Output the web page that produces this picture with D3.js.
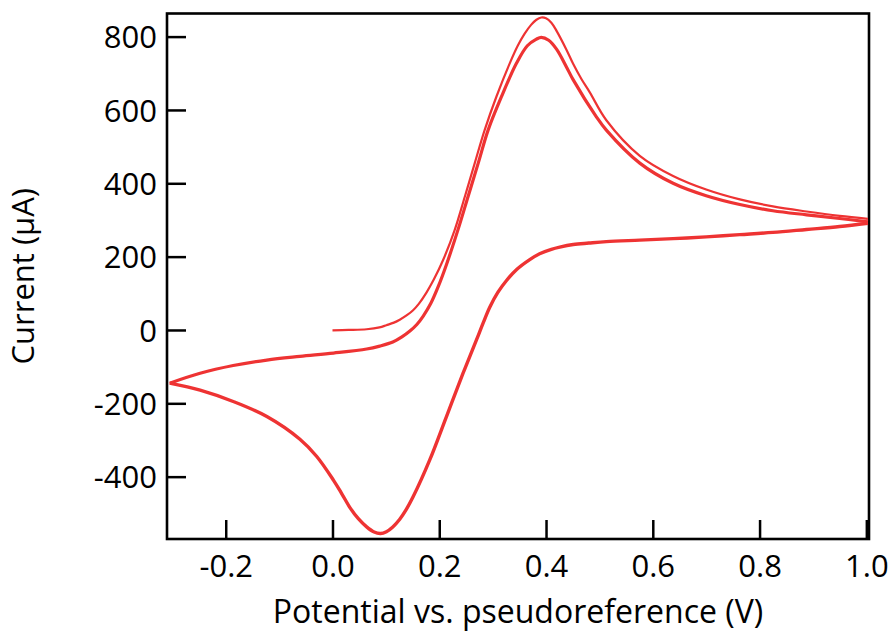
<!DOCTYPE html>
<html>
<head>
<meta charset="utf-8">
<script src="https://cdn.jsdelivr.net/npm/d3@7"></script>
<style>
  html, body { margin: 0; padding: 0; background: #fff; }
  svg { display: block; }
  text { font-family: "Open Sans", "Noto Sans", sans-serif; fill: #000; }
</style>
</head>
<body>
<svg id="chart" width="891" height="634"></svg>
<script>
// ---------------- data (potential in V, current in µA) ----------------
const xTicks = [-0.2, 0.0, 0.2, 0.4, 0.6, 0.8, 1.0];
const yTicks = [-400, -200, 0, 200, 400, 600, 800];
const xLabel = "Potential vs. pseudoreference (V)";
const yLabel = "Current (µA)";

// first anodic sweep (starting at 0 V)
const forward1V = [0.000, 0.030, 0.064, 0.088, 0.101, 0.115, 0.126, 0.140, 0.151, 0.162, 0.176, 0.190, 0.207, 0.229, 0.248, 0.2665, 0.285, 0.307, 0.332, 0.347, 0.360, 0.372, 0.382, 0.391, 0.400, 0.410, 0.420, 0.438, 0.451, 0.466, 0.482, 0.513, 0.5756, 0.638, 0.700, 0.763, 0.825, 0.888, 0.950, 1.003];
const forward1I = [-1, 0, 2, 7, 13, 20, 28, 41, 54, 72, 102, 138, 190, 273, 364, 455, 545, 636, 727, 775, 808, 832, 846, 852, 850, 838, 815, 765, 725, 685, 648, 572, 475, 420, 383, 356, 337, 323, 311, 303];

// cathodic sweeps (overlapping)
const reverseV = [1.003, 0.950, 0.888, 0.825, 0.763, 0.700, 0.638, 0.5756, 0.513, 0.480, 0.451, 0.4257, 0.410, 0.388, 0.3695, 0.345, 0.326, 0.310, 0.2946, 0.2825, 0.2697, 0.2446, 0.2135, 0.182, 0.151, 0.138, 0.126, 0.113, 0.101, 0.090, 0.078, 0.064, 0.048, 0.033, 0.018, 0.002, -0.0295, -0.061, -0.123, -0.186, -0.248, -0.305];
const reverseI = [291, 282, 274, 266, 260, 254, 249, 245, 241, 237, 233, 226, 220, 208, 192, 165, 135, 103, 62, 20, -27, -118, -236, -355, -455, -490, -516, -537, -550, -555, -551, -537, -514, -485, -448, -410, -345, -298, -236, -195, -164, -145];

// second anodic sweep (starting at the negative vertex)
const forward2V = [-0.305, -0.248, -0.186, -0.123, -0.061, 0.002, 0.064, 0.0885, 0.113, 0.130, 0.145, 0.158, 0.170, 0.184, 0.198, 0.2134, 0.235, 0.254, 0.273, 0.2915, 0.3165, 0.3446, 0.365, 0.382, 0.391, 0.405, 0.420, 0.438, 0.451, 0.494, 0.513, 0.5756, 0.638, 0.700, 0.763, 0.825, 0.888, 0.950, 1.003];
const forward2I = [-145, -118, -97, -82, -72, -63, -52, -44, -33, -19, -3, 15, 38, 72, 118, 178, 273, 364, 455, 545, 636, 727, 775, 793, 798, 790, 765, 718, 682, 582, 545, 455, 400, 366, 342, 325, 314, 304, 295];

// ---------------- layout ----------------
const W = 891, H = 634;
const margin = { left: 167, right: 22, top: 13.5, bottom: 95 };
const iw = W - margin.left - margin.right;
const ih = H - margin.top - margin.bottom;
const red = "#ee3333";

const svg = d3.select("#chart");
const g = svg.append("g").attr("transform", `translate(${margin.left},${margin.top})`);

const x = d3.scaleLinear().domain([-0.31, 1.005]).range([0, iw]);
const y = d3.scaleLinear().domain([-570, 863]).range([ih, 0]);

const hyphen = s => s.replace("\u2212", "-");

// axes (ticks pointing inward)
const xAxis = d3.axisBottom(x).tickValues(xTicks).tickSize(-19).tickPadding(16)
  .tickFormat(d => hyphen(d3.format(".1f")(d)));
const yAxis = d3.axisLeft(y).tickValues(yTicks).tickSize(-19).tickPadding(10)
  .tickFormat(d => hyphen(d3.format("d")(d)));

const gx = g.append("g").attr("transform", `translate(0,${ih})`).call(xAxis);
const gy = g.append("g").call(yAxis);
[gx, gy].forEach(a => {
  a.select(".domain").remove();
  a.selectAll(".tick line").attr("stroke", "#000").attr("stroke-width", 2.5);
  a.selectAll(".tick text").attr("font-size", 31).attr("font-family", '"Open Sans", sans-serif').attr("fill", "#000");
});
gy.selectAll(".tick text").attr("dy", "0.36em");

// frame
g.append("rect").attr("x", 0).attr("y", 0).attr("width", iw).attr("height", ih)
  .attr("fill", "none").attr("stroke", "#000").attr("stroke-width", 2.6);

// curves
const line = d3.line().x(d => x(d[0])).y(d => y(d[1])).curve(d3.curveCatmullRom.alpha(0.5));
const zip = (a, b) => a.map((v, i) => [v, b[i]]);

g.append("path").datum(zip(reverseV, reverseI)).attr("d", line)
  .attr("fill", "none").attr("stroke", red).attr("stroke-width", 3.4).attr("stroke-linejoin", "round");
g.append("path").datum(zip(forward2V, forward2I)).attr("d", line)
  .attr("fill", "none").attr("stroke", red).attr("stroke-width", 3.2).attr("stroke-linejoin", "round");
g.append("path").datum(zip(forward1V, forward1I)).attr("d", line)
  .attr("fill", "none").attr("stroke", red).attr("stroke-width", 2.2).attr("stroke-linejoin", "round");

// axis titles
svg.append("text").attr("x", margin.left + iw / 2).attr("y", 623)
  .attr("text-anchor", "middle").attr("font-size", 32).text(xLabel);
svg.append("text").attr("transform", `translate(34,${margin.top + ih / 2}) rotate(-90)`)
  .attr("text-anchor", "middle").attr("font-size", 31).text(yLabel);
</script>
</body>
</html>
